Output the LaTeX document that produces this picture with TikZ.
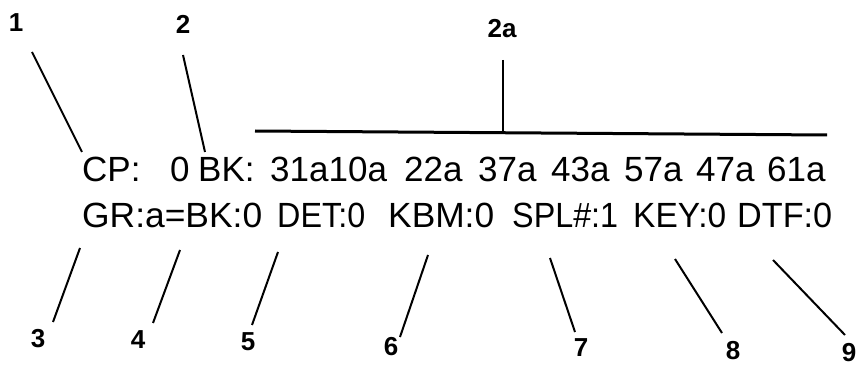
\documentclass[tikz,border=0pt]{standalone}
\usepackage{fontspec}
\usepackage{graphicx}
\setmainfont{Liberation Sans}
\newcommand{\fitw}[2]{\resizebox{#1pt}{\height}{#2}}
\begin{document}
\begin{tikzpicture}[x=1pt,y=-1pt,
  txt/.style={font=\fontsize{35}{35}\selectfont, anchor=base west, inner sep=0pt},
  num/.style={font=\fontsize{26}{26}\selectfont\bfseries, inner sep=0pt},
  lead/.style={line width=2pt},
  bar/.style={line width=3pt}]
\useasboundingbox (0,0) rectangle (857,366);
% first row
\node[txt] (cp) at (82,182) {CP:};
\node[txt] (zero) at (170,182) {0};
\node[txt] (bk) at (198,182) {BK:};
\node[txt] (b1) at (270,182) {31a10a};
\node[txt] (b2) at (404,182) {22a};
\node[txt] (b3) at (478,182) {37a};
\node[txt] (b4) at (551,182) {43a};
\node[txt] (b5) at (624,182) {57a};
\node[txt] (b6) at (696,182) {47a};
\node[txt] (b7) at (767,182) {61a};
% second row
\node[txt] (gr) at (82,228) {\fitw{180}{GR:a=BK:0}};
\node[txt] (det) at (277,228) {\fitw{88}{DET:0}};
\node[txt] (kbm) at (388,228) {\fitw{106}{KBM:0}};
\node[txt] (spl) at (512,228) {\fitw{106}{SPL\#:1}};
\node[txt] (key) at (633,228) {\fitw{93}{KEY:0}};
\node[txt] (dtf) at (737,228) {\fitw{95}{DTF:0}};
% labels
\node[num] (n1) at (16,23) {1};
\node[num] (n2) at (183,24) {2};
\node[num] (n2a) at (502,29) {2a};
\node[num] (n3) at (38,339) {3};
\node[num] (n4) at (138,340) {4};
\node[num] (n5) at (248,342) {5};
\node[num] (n6) at (391,347) {6};
\node[num] (n7) at (581,348) {7};
\node[num] (n8) at (733,351) {8};
\node[num] (n9) at (849,353) {9};
% leader end points
\coordinate (a1) at (32,52);  \coordinate (e1) at (82,152);
\coordinate (a2) at (183,55); \coordinate (e2) at (205,152);
\coordinate (a3) at (53,322); \coordinate (e3) at (80,248);
\coordinate (a4) at (153,323); \coordinate (e4) at (180,250);
\coordinate (a5) at (252,325); \coordinate (e5) at (278,252);
\coordinate (a6) at (400,337); \coordinate (e6) at (428,255);
\coordinate (a7) at (575,332); \coordinate (e7) at (550,258);
\coordinate (a8) at (722,333); \coordinate (e8) at (675,259);
\coordinate (a9) at (845,335); \coordinate (e9) at (773,260);
\coordinate (hl) at (255,131); \coordinate (hr) at (827,135);
\coordinate (va) at (503,60); \coordinate (vb) at (503,133);
\draw[lead] (a1) -- (e1);
\draw[lead] (a2) -- (e2);
\draw[lead] (a3) -- (e3);
\draw[lead] (a4) -- (e4);
\draw[lead] (a5) -- (e5);
\draw[lead] (a6) -- (e6);
\draw[lead] (a7) -- (e7);
\draw[lead] (a8) -- (e8);
\draw[lead] (a9) -- (e9);
\draw[bar] (hl) -- (hr);
\draw[line width=1.5pt] (va) -- (vb);
\end{tikzpicture}
\end{document}
